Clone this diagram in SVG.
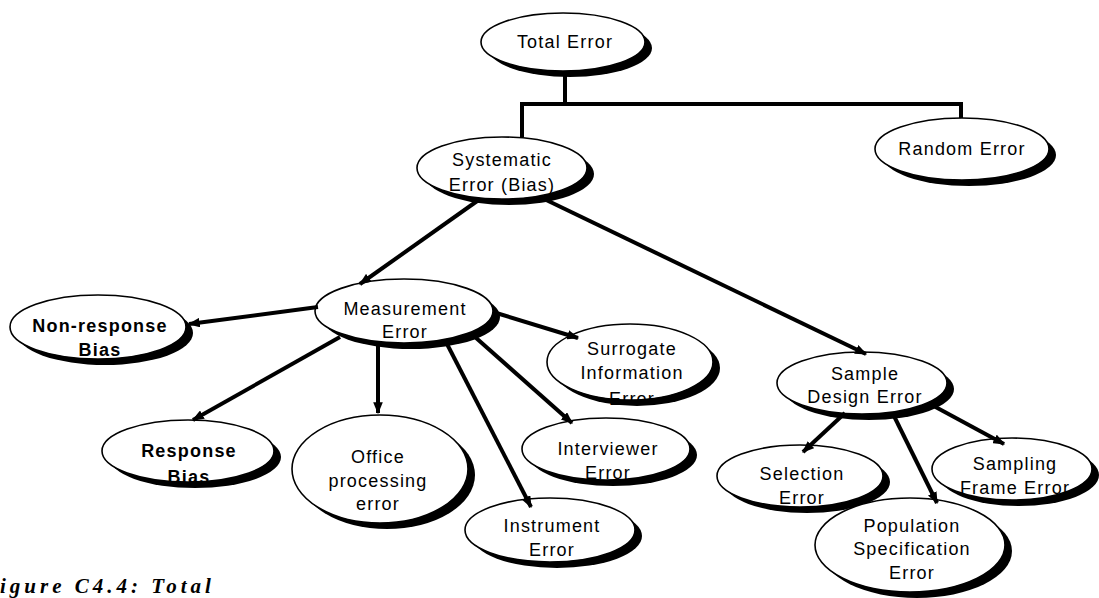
<svg xmlns="http://www.w3.org/2000/svg" width="1099" height="598" viewBox="0 0 1099 598">
<style>
  .face{fill:#fff;stroke:#000;stroke-width:1.6}
  .shadow{fill:#000}
  .lbl{font-family:"Liberation Sans",Arial,sans-serif;font-size:18px;letter-spacing:1.2px;fill:#000;text-anchor:middle}
  .b{font-weight:bold}
  .conn{fill:none;stroke:#000;stroke-width:4}
  .cap{font-family:"Liberation Serif","Times New Roman",serif;font-style:italic;font-weight:bold;font-size:21px;letter-spacing:4px;fill:#000}
</style>
<defs>
  <marker id="arr" viewBox="0 0 10 8" refX="9" refY="4" markerWidth="3" markerHeight="2.4" orient="auto" markerUnits="strokeWidth">
    <path d="M0,0 L10,4 L0,8 z" fill="#000"/>
  </marker>
  <mask id="faces" maskUnits="userSpaceOnUse" x="0" y="0" width="1099" height="598">
    <rect x="0" y="0" width="1099" height="598" fill="#fff"/>
    <g fill="#000">
      <ellipse cx="563" cy="42" rx="82" ry="29"/>
      <ellipse cx="502" cy="168" rx="85" ry="31"/>
      <ellipse cx="962" cy="149" rx="87" ry="31"/>
      <ellipse cx="98" cy="327" rx="88" ry="32"/>
      <ellipse cx="404" cy="311" rx="89" ry="32"/>
      <ellipse cx="630" cy="362" rx="83" ry="38"/>
      <ellipse cx="188" cy="451" rx="86" ry="31"/>
      <ellipse cx="380" cy="469" rx="88" ry="54"/>
      <ellipse cx="606" cy="449" rx="84" ry="31"/>
      <ellipse cx="550" cy="530" rx="85" ry="32"/>
      <ellipse cx="862" cy="383" rx="85" ry="31"/>
      <ellipse cx="1012" cy="469" rx="80" ry="31"/>
      <ellipse cx="800" cy="476" rx="83" ry="31"/>
      <ellipse cx="910" cy="545" rx="95" ry="47"/>
    </g>
  </mask>
</defs>

<g id="total-error">
  <ellipse class="face" cx="563" cy="42" rx="82" ry="29"/>
  <text class="lbl" x="565" y="48">Total Error</text>
  <ellipse class="shadow" cx="570" cy="48" rx="82" ry="29" mask="url(#faces)"/>
</g>
<g id="systematic-error">
  <ellipse class="face" cx="502" cy="168" rx="85" ry="31"/>
  <text class="lbl" x="502" y="166">Systematic</text>
  <text class="lbl" x="502" y="191">Error (Bias)</text>
  <ellipse class="shadow" cx="509" cy="174" rx="85" ry="31" mask="url(#faces)"/>
</g>
<g id="random-error">
  <ellipse class="face" cx="962" cy="149" rx="87" ry="31"/>
  <text class="lbl" x="962" y="155">Random Error</text>
  <ellipse class="shadow" cx="969" cy="155" rx="87" ry="31" mask="url(#faces)"/>
</g>
<g id="non-response-bias">
  <ellipse class="face" cx="98" cy="327" rx="88" ry="32"/>
  <text class="lbl b" x="100" y="332">Non-response</text>
  <text class="lbl b" x="100" y="356">Bias</text>
  <ellipse class="shadow" cx="105" cy="333" rx="88" ry="32" mask="url(#faces)"/>
</g>
<g id="measurement-error">
  <ellipse class="face" cx="404" cy="311" rx="89" ry="32"/>
  <text class="lbl" x="405" y="315">Measurement</text>
  <text class="lbl" x="405" y="338">Error</text>
  <ellipse class="shadow" cx="411" cy="317" rx="89" ry="32" mask="url(#faces)"/>
</g>
<g id="surrogate-information-error">
  <ellipse class="face" cx="630" cy="362" rx="83" ry="38"/>
  <text class="lbl" x="632" y="355">Surrogate</text>
  <text class="lbl" x="632" y="379">Information</text>
  <text class="lbl" x="632" y="405">Error</text>
  <ellipse class="shadow" cx="637" cy="368" rx="83" ry="38" mask="url(#faces)"/>
</g>
<g id="response-bias">
  <ellipse class="face" cx="188" cy="451" rx="86" ry="31"/>
  <text class="lbl b" x="189" y="457">Response</text>
  <text class="lbl b" x="189" y="483">Bias</text>
  <ellipse class="shadow" cx="195" cy="457" rx="86" ry="31" mask="url(#faces)"/>
</g>
<g id="office-processing-error">
  <ellipse class="face" cx="380" cy="469" rx="88" ry="54"/>
  <text class="lbl" x="378" y="463">Office</text>
  <text class="lbl" x="378" y="487">processing</text>
  <text class="lbl" x="378" y="510">error</text>
  <ellipse class="shadow" cx="387" cy="475" rx="88" ry="54" mask="url(#faces)"/>
</g>
<g id="interviewer-error">
  <ellipse class="face" cx="606" cy="449" rx="84" ry="31"/>
  <text class="lbl" x="608" y="455">Interviewer</text>
  <text class="lbl" x="608" y="479">Error</text>
  <ellipse class="shadow" cx="613" cy="455" rx="84" ry="31" mask="url(#faces)"/>
</g>
<g id="instrument-error">
  <ellipse class="face" cx="550" cy="530" rx="85" ry="32"/>
  <text class="lbl" x="552" y="532">Instrument</text>
  <text class="lbl" x="552" y="556">Error</text>
  <ellipse class="shadow" cx="557" cy="536" rx="85" ry="32" mask="url(#faces)"/>
</g>
<g id="sample-design-error">
  <ellipse class="face" cx="862" cy="383" rx="85" ry="31"/>
  <text class="lbl" x="865" y="380">Sample</text>
  <text class="lbl" x="865" y="403">Design Error</text>
  <ellipse class="shadow" cx="869" cy="389" rx="85" ry="31" mask="url(#faces)"/>
</g>
<g id="sampling-frame-error">
  <ellipse class="face" cx="1012" cy="469" rx="80" ry="31"/>
  <text class="lbl" x="1015" y="470">Sampling</text>
  <text class="lbl" x="1015" y="494">Frame Error</text>
  <ellipse class="shadow" cx="1019" cy="475" rx="80" ry="31" mask="url(#faces)"/>
</g>
<g id="selection-error">
  <ellipse class="face" cx="800" cy="476" rx="83" ry="31"/>
  <text class="lbl" x="802" y="480">Selection</text>
  <text class="lbl" x="802" y="504">Error</text>
  <ellipse class="shadow" cx="807" cy="482" rx="83" ry="31" mask="url(#faces)"/>
</g>
<g id="population-specification-error">
  <ellipse class="face" cx="910" cy="545" rx="95" ry="47"/>
  <text class="lbl" x="912" y="532">Population</text>
  <text class="lbl" x="912" y="555">Specification</text>
  <text class="lbl" x="912" y="579">Error</text>
  <ellipse class="shadow" cx="917" cy="551" rx="95" ry="47" mask="url(#faces)"/>
</g>

<g id="connectors">
  <path class="conn" d="M565,71 V104 M522,137 V104 H961 V118"/>
  <path class="conn" d="M480,199 L360,284" marker-end="url(#arr)"/>
  <path class="conn" d="M540,197 L866,354" marker-end="url(#arr)"/>
  <path class="conn" d="M318,307 L189,324" marker-end="url(#arr)"/>
  <path class="conn" d="M340,337 L193,420" marker-end="url(#arr)"/>
  <path class="conn" d="M378,344 L378,413" marker-end="url(#arr)"/>
  <path class="conn" d="M447,344 L531,507" marker-end="url(#arr)"/>
  <path class="conn" d="M475,337 L572,423" marker-end="url(#arr)"/>
  <path class="conn" d="M493,312 L578,338" marker-end="url(#arr)"/>
  <path class="conn" d="M845,413 L803,452" marker-end="url(#arr)"/>
  <path class="conn" d="M893,414 L937,503" marker-end="url(#arr)"/>
  <path class="conn" d="M930,404 L1004,444" marker-end="url(#arr)"/>
</g>

<text class="cap" x="0" y="593">igure C4.4: Total</text>
</svg>
